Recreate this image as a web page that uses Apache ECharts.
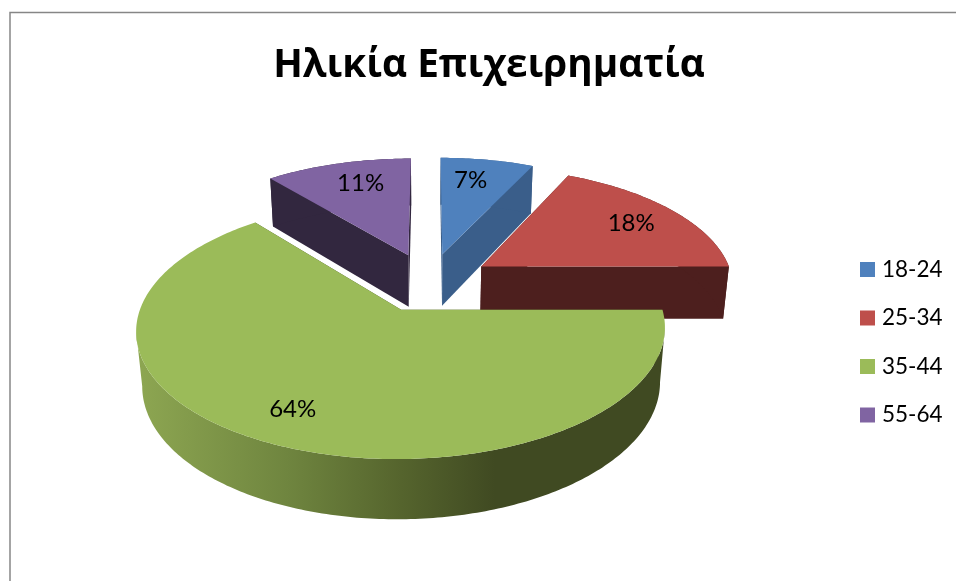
<!DOCTYPE html>
<html>
<head>
<meta charset="utf-8">
<style>
  html, body { margin: 0; padding: 0; background: #fff; }
  #chart { width: 956px; height: 581px; }
</style>
<script src="https://cdn.jsdelivr.net/npm/echarts@6/dist/echarts.min.js"></script>
</head>
<body>
<div id="chart"></div>
<script>
const chartTitle = 'Ηλικία Επιχειρηματία'
const categories = ['18-24', '25-34', '35-44', '55-64']
const shareValues = [7, 18, 64, 11]

const topColors = ['#4f81bd', '#be4f4b', '#9bbb59', '#8064a2']
const sideColors = ['#3a5e8a', '#4d1f1e', '#404a22', '#32273f']
// where each label sits: fraction across the slice, fraction of the radius
const labelSpread = [0.41, 0.514, 0.508, 0.563]
const labelRadius = [0.75, 0.766, 0.79, 0.755]
// green is painted last, it lies over the wall of the red slice
const paintOrder = [3, 0, 1, 2]

// perspective of the tilted pie, fitted to the picture
const view = { x0: 429, y0: 282, a: 252.5, b: 118.2, k: 0.148, drop: 54, shrink: 0.02 }
const explode = 0.25

const project = (x, y, z) => {
  const w = 1 - view.k * y + view.shrink * z
  return [view.x0 + view.a * x / w, view.y0 + (view.b * y + view.drop * z) / w]
}

const total = shareValues.reduce((s, v) => s + v, 0)
const startAngle = (i) => shareValues.slice(0, i).reduce((s, v) => s + v, 0) / total * Math.PI * 2

const renderSlice = (i) => (params, api) => {
  const from = startAngle(i)
  const span = api.value(0) / total * Math.PI * 2
  const mid = from + span / 2
  const ox = Math.sin(mid) * explode
  const oy = -Math.cos(mid) * explode
  const onRim = (t, z, r = 1) => project(ox + Math.sin(t) * r, oy - Math.cos(t) * r, z)

  const steps = Math.ceil(span / 0.015)
  const angles = []
  for (let n = 0; n <= steps; n++) angles.push(from + span * n / steps)

  const rimTop = angles.map((t) => onRim(t, 0))
  const rimBottom = angles.map((t) => onRim(t, 1))
  const apexTop = project(ox, oy, 0)
  const apexBottom = project(ox, oy, 1)

  // only the part of the rim between the left and right extremes can be seen
  const xs = rimTop.map((p) => p[0])
  const iMax = xs.indexOf(Math.max(...xs))
  const iMin = xs.indexOf(Math.min(...xs))
  const lo = Math.min(iMax, iMin)
  const hi = Math.max(iMax, iMin)
  const wall = rimTop.slice(lo, hi + 1).concat(rimBottom.slice(lo, hi + 1).reverse())

  // the big slice has the shaded front wall
  const wallFill = i === 2 ? {
    type: 'linear', global: true, x: 143, y: 0, x2: 660, y2: 0,
    colorStops: [
      { offset: 0, color: '#8ca551' },
      { offset: 0.28, color: '#6f853f' },
      { offset: 0.5, color: '#55642d' },
      { offset: 0.68, color: '#404a22' },
      { offset: 1, color: '#404a22' }
    ]
  } : sideColors[i]

  const poly = (points, fill) => ({ type: 'polygon', shape: { points }, style: { fill } })
  const labelAngle = from + span * labelSpread[i]
  const labelPos = onRim(labelAngle, 0, labelRadius[i])

  return {
    type: 'group',
    children: [
      poly([apexTop, rimTop[0], rimBottom[0], apexBottom], sideColors[i]),
      poly([apexTop, rimTop[steps], rimBottom[steps], apexBottom], sideColors[i]),
      poly(wall, wallFill),
      poly([apexTop].concat(rimTop), topColors[i]),
      {
        type: 'text',
        style: {
          text: api.value(0) + '%',
          x: labelPos[0],
          y: labelPos[1],
          align: 'center',
          verticalAlign: 'middle',
          fill: '#000',
          fontFamily: 'Lato',
          fontSize: 24
        }
      }
    ]
  }
}

const chart = echarts.init(document.getElementById('chart'))
chart.setOption({
  animation: false,
  backgroundColor: '#fff',
  title: {
    text: chartTitle,
    left: 484,
    top: 41,
    textAlign: 'center',
    textStyle: { fontFamily: 'Open Sans', fontWeight: 'bold', fontSize: 38.7, color: '#000' }
  },
  legend: {
    orient: 'vertical',
    left: 860,
    top: 258,
    padding: 0,
    itemWidth: 15,
    itemHeight: 15,
    itemGap: 25.5,
    icon: 'rect',
    data: categories,
    textStyle: { fontFamily: 'Lato', fontSize: 22.5, color: '#000', lineHeight: 15, padding: [0, 0, 0, 2] }
  },
  graphic: [{
    type: 'polyline',
    shape: { points: [[10, 581], [10, 12.5], [956, 12.5]] },
    style: { stroke: '#868686', lineWidth: 1.5, fill: null }
  }],
  series: paintOrder.map((i) => ({
    type: 'custom',
    name: categories[i],
    coordinateSystem: 'none',
    itemStyle: { color: topColors[i] },
    data: [shareValues[i]],
    renderItem: renderSlice(i)
  }))
})
</script>
</body>
</html>
